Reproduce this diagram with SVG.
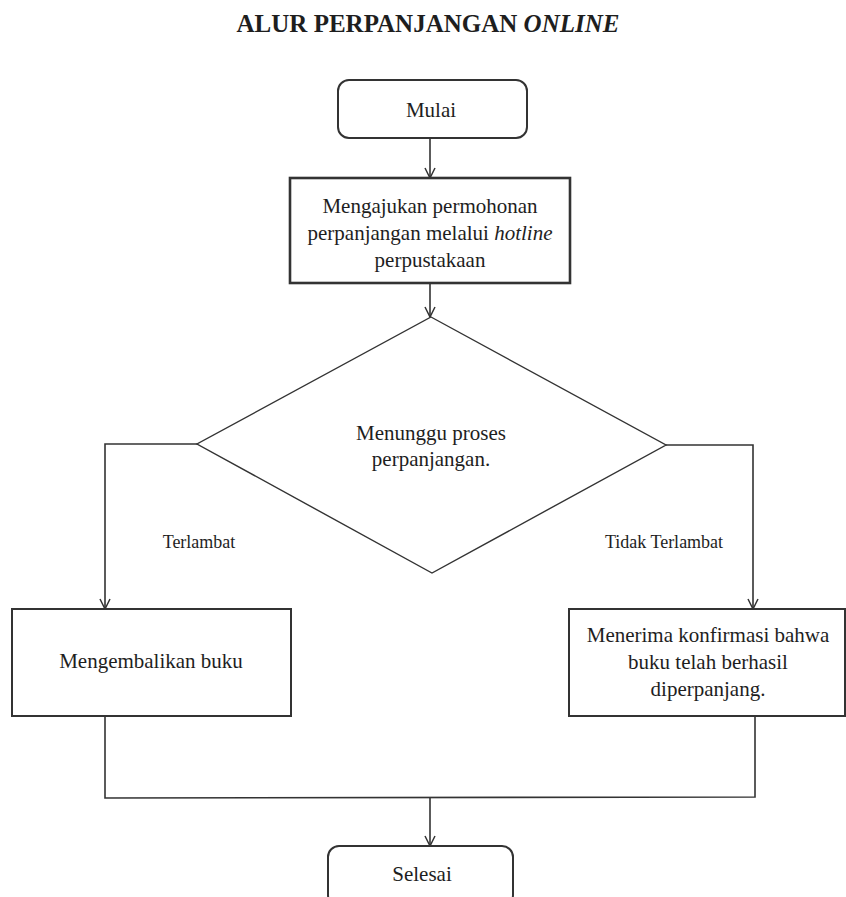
<svg xmlns="http://www.w3.org/2000/svg" width="846" height="897" viewBox="0 0 846 897">
  <style>
    .t { font-family: "Liberation Serif", "Times New Roman", serif; fill: #1e1e1e; text-anchor: middle; }
    .title { font-size: 25px; font-weight: bold; }
    .lbl { font-size: 21px; }
    .small { font-size: 18px; }
    .box { fill: #fff; stroke: #333; stroke-width: 2; }
    .thick { stroke-width: 2.6; }
    .edge { fill: none; stroke: #333; stroke-width: 1.6; }
  </style>
  <defs>
    <marker id="arr" viewBox="0 0 12 12" refX="11" refY="6" markerWidth="12" markerHeight="12" markerUnits="userSpaceOnUse" orient="auto">
      <path d="M1,1 L11,6 L1,11" fill="none" stroke="#333" stroke-width="1.5"/>
    </marker>
  </defs>
  <rect width="846" height="897" fill="#fff"/>

  <text class="t title" x="428" y="32">ALUR PERPANJANGAN <tspan font-style="italic">ONLINE</tspan></text>

  <g id="connectors">
    <line class="edge" x1="430" y1="138" x2="430" y2="178" marker-end="url(#arr)"/>
    <line class="edge" x1="430" y1="284" x2="430" y2="317" marker-end="url(#arr)"/>
    <polyline class="edge" points="197,444 105,444 105,609" marker-end="url(#arr)"/>
    <polyline class="edge" points="666,445 753,445 753,609" marker-end="url(#arr)"/>
    <polyline class="edge" points="105,716 105,798 755,797 755,716"/>
    <line class="edge" x1="430" y1="798" x2="430" y2="846" marker-end="url(#arr)"/>
    <text class="t small" x="199" y="548">Terlambat</text>
    <text class="t small" x="664" y="548">Tidak Terlambat</text>
  </g>

  <g id="start">
    <rect class="box" x="338" y="80" width="189" height="58" rx="11"/>
    <text class="t lbl" x="431" y="117">Mulai</text>
  </g>

  <g id="request">
    <rect class="box thick" x="290" y="178" width="280" height="105"/>
    <text class="t lbl" x="430" y="213">Mengajukan permohonan</text>
    <text class="t lbl" x="430" y="240">perpanjangan melalui <tspan font-style="italic">hotline</tspan></text>
    <text class="t lbl" x="430" y="267">perpustakaan</text>
  </g>

  <g id="wait">
    <polygon class="box" style="stroke-width:1.4" points="431,317 666,445 432,573 197,444"/>
    <text class="t lbl" x="431" y="440">Menunggu proses</text>
    <text class="t lbl" x="431" y="466">perpanjangan.</text>
  </g>

  <g id="return">
    <rect class="box" x="12" y="609" width="279" height="107"/>
    <text class="t lbl" x="151" y="668">Mengembalikan buku</text>
  </g>

  <g id="confirm">
    <rect class="box" x="569" y="609" width="276" height="107"/>
    <text class="t lbl" x="708" y="642">Menerima konfirmasi bahwa</text>
    <text class="t lbl" x="708" y="669">buku telah berhasil</text>
    <text class="t lbl" x="708" y="696">diperpanjang.</text>
  </g>

  <g id="end">
    <rect class="box" x="328" y="846" width="185" height="60" rx="11"/>
    <text class="t lbl" x="422" y="881">Selesai</text>
  </g>
</svg>
